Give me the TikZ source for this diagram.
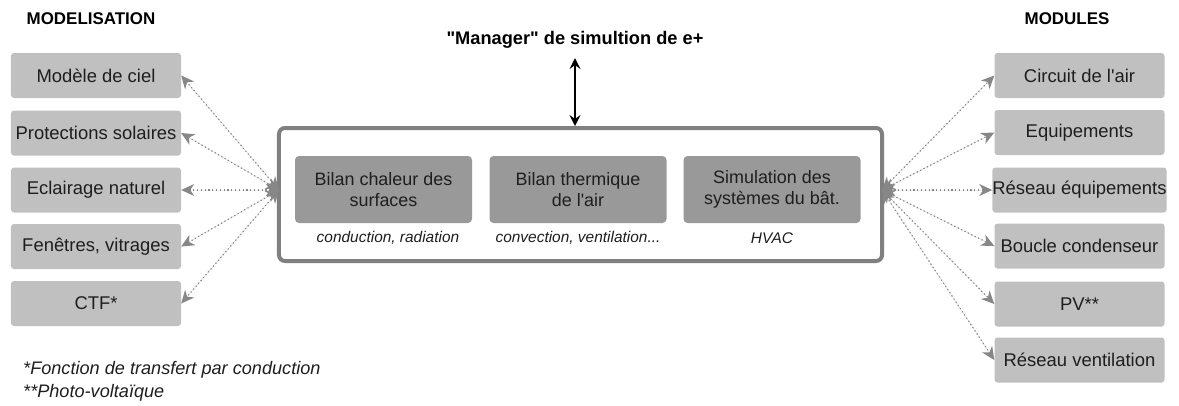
\documentclass[tikz,border=0pt]{standalone}
\usepackage{fontspec}
\setmainfont{Liberation Sans}[Ligatures=TeXOff]
\usepackage{tikz}
\usetikzlibrary{arrows.meta,shapes}
\definecolor{boxgray}{RGB}{192,192,192}
\definecolor{coregray}{RGB}{153,153,153}
\definecolor{framegray}{RGB}{128,128,128}
\definecolor{linkgray}{RGB}{135,135,135}
\definecolor{inkgray}{RGB}{30,30,30}

\begin{document}
\begin{tikzpicture}[x=1bp,y=-1bp,
  modbox/.style={fill=boxgray,rounded corners=3bp,minimum width=170bp,minimum height=45bp,inner sep=0pt,text=inkgray,font=\fontsize{18.5}{21}\selectfont},
  corebox/.style={fill=coregray,rounded corners=4bp,minimum width=177bp,minimum height=67bp,inner sep=0pt,align=center,text=inkgray,font=\fontsize{18}{21.5}\selectfont},
  subnote/.style={text=inkgray,font=\fontsize{15.5}{17}\selectfont\itshape},
  heading/.style={font=\fontsize{17}{19}\selectfont\bfseries},
  footnote/.style={anchor=west,inner sep=0pt,text=inkgray,font=\fontsize{18.2}{20}\selectfont\itshape},
  link/.style={{Stealth[length=13bp,width=12bp,inset=4bp]}-{Stealth[length=13bp,width=12bp,inset=4bp]},draw=linkgray,fill=linkgray,line width=1.2bp,dash pattern=on 1.2bp off 2.6bp},
]
\useasboundingbox (0,0) rectangle (1179,405);
%%
\node (modtitle) at (91,19) [heading] {MODELISATION};
\node (modules) at (1067,19) [heading] {MODULES};
\node (manager) at (575,40) [heading,font=\fontsize{18.3}{20}\selectfont\bfseries] {"Manager" de simultion de e+};
%
\node (core) at (580.5,194.5) [draw=framegray,line width=4bp,rounded corners=6bp,minimum width=603bp,minimum height=133bp] {};
\node (bilanS) at (383.5,189.5) [corebox] {Bilan chaleur des\\surfaces};
\node (bilanA) at (578,189.5) [corebox] {Bilan thermique\\de l'air};
\node (simsys) at (772,189.5) [corebox] {Simulation des\\systèmes du bât.};
\node (noteS) at (388,238) [subnote] {conduction, radiation};
\node (noteA) at (578,238) [subnote] {convection, ventilation...};
\node (noteH) at (772,238) [subnote] {HVAC};
\coordinate (hubL) at (279,190);
\coordinate (hubR) at (882,190);
%
\node (ciel) at (96,75.5) [modbox] {Modèle de ciel};
\node (protect) at (96,133) [modbox] {Protections solaires};
\node (eclair) at (96,190) [modbox] {Eclairage naturel};
\node (fenetre) at (96,246.5) [modbox] {Fenêtres, vitrages};
\node (ctf) at (96,303.5) [modbox] {CTF*};
%
\node (circuit) at (1079.5,75.5) [modbox] {Circuit de l'air};
\node (equip) at (1079.5,132.5) [modbox] {Equipements};
\node (reseq) at (1079.5,190) [modbox] {Réseau équipements};
\node (boucle) at (1079.5,246) [modbox] {Boucle condenseur};
\node (pv) at (1079.5,304) [modbox] {PV**};
\node (resvent) at (1079.5,360) [modbox] {Réseau ventilation};
%
\node (fn1) at (23,370) [footnote] {*Fonction de transfert par conduction};
\node (fn2) at (23,393) [footnote] {**Photo-voltaïque};
%
\draw [{Stealth[length=11bp,width=11bp,inset=4bp]}-{Stealth[length=11bp,width=11bp,inset=4bp]},line width=1.5bp,shorten <=6bp] (manager.south) -- (manager.south |- core.north);
%
\draw [link] (hubL) -- (ciel.east);
\draw [link] (hubL) -- (protect.east);
\draw [link] (hubL) -- (eclair.east);
\draw [link] (hubL) -- (fenetre.east);
\draw [link] (hubL) -- (ctf.east);
%
\draw [link] (hubR) -- (circuit.west);
\draw [link] (hubR) -- (equip.west);
\draw [link] (hubR) -- (reseq.west);
\draw [link] (hubR) -- (boucle.west);
\draw [link] (hubR) -- (pv.west);
\draw [link] (hubR) -- (resvent.west);
%
\end{tikzpicture}
\end{document}
